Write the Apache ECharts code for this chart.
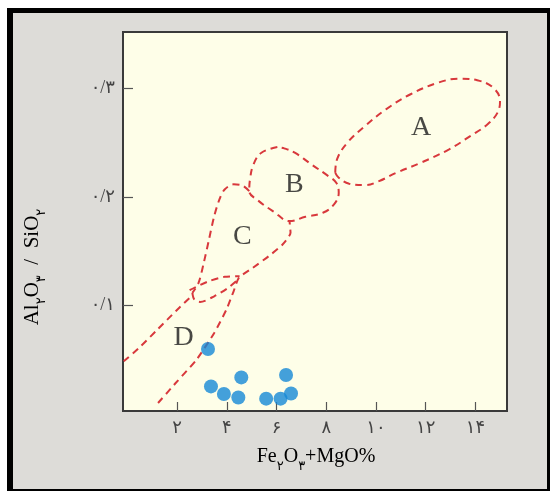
<!DOCTYPE html>
<html>
<head>
<meta charset="utf-8">
<script src="https://cdn.jsdelivr.net/npm/echarts@6/dist/echarts.min.js"></script>
<style>
html,body{margin:0;padding:0;background:#ffffff;}
#c{width:550px;height:491px;}
</style>
</head>
<body>
<div id="c"></div>
<script>
// ---- data ----
var xTicks = [2, 4, 6, 8, 10, 12, 14];
var yTicks = [0.1, 0.2, 0.3];
var pointsX = [3.24, 3.36, 3.88, 4.58, 4.46, 5.58, 6.16, 6.38, 6.58];
var pointsY = [0.0597, 0.0252, 0.0182, 0.0335, 0.0150, 0.0139, 0.0139, 0.0357, 0.0187];

var regionA = [[8.36,0.2223],[8.43,0.2345],[8.85,0.2500],[9.56,0.2653],[10.40,0.2807],[11.39,0.2946],[12.52,0.3054],[13.37,0.3090],[14.07,0.3075],[14.71,0.3007],[14.99,0.2884],[14.89,0.2777],[14.49,0.2669],[13.79,0.2560],[12.94,0.2438],[11.81,0.2315],[10.83,0.2223],[10.12,0.2145],[9.56,0.2108],[8.92,0.2121],[8.50,0.2176],[8.36,0.2223]];
var regionB = [[6.03,0.2459],[5.39,0.2407],[5.07,0.2299],[4.93,0.2161],[4.90,0.2053],[5.25,0.1967],[5.89,0.1862],[6.52,0.1776],[7.16,0.1816],[7.86,0.1853],[8.31,0.1930],[8.50,0.2038],[8.40,0.2130],[8.08,0.2191],[7.44,0.2293],[6.73,0.2407],[6.31,0.2447],[6.03,0.2459]];
var regionCLeft = [[4.90,0.2053],[4.62,0.2105],[4.27,0.2115],[3.91,0.2068],[3.70,0.1976],[3.49,0.1822],[3.28,0.1607],[3.07,0.1392],[2.86,0.1207],[2.61,0.1114]];
var lensBottom = [[2.61,0.1114],[2.69,0.1053],[2.92,0.1031],[3.49,0.1083],[4.05,0.1161],[4.48,0.1244]];
var lensTop = [[2.50,0.1139],[3.21,0.1216],[3.91,0.1262],[4.51,0.1268]];
var dUpper = [[-0.15,0.0483],[0.53,0.0621],[1.23,0.0782],[1.94,0.0945],[2.57,0.1083]];
var dcLower = [[1.23,0.0099],[1.94,0.0283],[2.78,0.0499],[3.49,0.0745],[3.98,0.0960],[4.27,0.1129],[4.48,0.1253],[5.04,0.1345],[5.68,0.1452],[6.24,0.1560],[6.56,0.1669],[6.52,0.1776]];
var regionLabels = [['A',11.81,0.2638],['B',6.71,0.2115],['C',4.62,0.1637],['D',2.26,0.0699]];

// ---- helpers ----
var fa = ['۰','۱','۲','۳','۴','۵','۶','۷','۸','۹'];
function toFa(s){ return String(s).replace(/[0-9]/g, function(d){ return fa[+d]; }); }
var serif = 'Liberation Serif, DejaVu Serif, DejaVu Sans, serif';

var red = '#d8383c';
function dashed(data, smooth){
  return {
    type:'line', data:data, smooth: smooth, symbol:'none', silent:true,
    lineStyle:{color:red, width:2, type:[7,5]}, z:3
  };
}

var series = [
  dashed(regionA, 0.4),
  dashed(regionB, 0.4),
  dashed(regionCLeft, 0.3),
  dashed(lensBottom, 0.3),
  dashed(lensTop, 0.3),
  dashed(dUpper, 0.2),
  dashed(dcLower, 0.2),
  {
    type:'scatter', symbol:'circle', symbolSize:14,
    data: pointsX.map(function(x,i){ return [x, pointsY[i]]; }),
    itemStyle:{color:'#1588d6'}, z:5
  },
  {
    type:'scatter', symbolSize:0, silent:true,
    data: regionLabels.map(function(r){ return {value:[r[1], r[2]], name:r[0]}; }),
    label:{show:true, position:'inside', formatter:function(p){return p.name;},
      fontFamily:serif, fontSize:28, color:'#1a1a1a'}, z:6
  }
];

var chart = echarts.init(document.getElementById('c'), null, {renderer:'canvas'});
chart.setOption({
  animation:false,
  backgroundColor:'#ffffff',
  graphic:[
    {type:'rect', shape:{x:7, y:8, width:543, height:483}, style:{fill:'#000000'}, z:-10},
    {type:'rect', shape:{x:13, y:13, width:534, height:476}, style:{fill:'#dddcd8'}, z:-9},
    {type:'text', x:316, y:457, z:10,
      style:{text:'{n|Fe}{s|۲}{n|O}{s|۳}{n|+MgO%}', align:'center', verticalAlign:'middle',
        rich:{ n:{fontFamily:serif, fontSize:20, color:'#333', lineHeight:32},
               s:{fontFamily:serif, fontSize:13, color:'#333', verticalAlign:'bottom', lineHeight:13} } } },
    {type:'text', x:32, y:267, rotation:Math.PI/2, z:10,
      style:{text:'{n|Al}{s|۲}{n|O}{s|۳}{n|  /  SiO}{s|۲}', align:'center', verticalAlign:'middle',
        rich:{ n:{fontFamily:serif, fontSize:21, color:'#333', lineHeight:32},
               s:{fontFamily:serif, fontSize:13, color:'#333', verticalAlign:'bottom', lineHeight:13} } } }
  ],
  grid:{left:123, top:32, right:43, bottom:80, show:true, backgroundColor:'#fefee8',
    borderColor:'#3a3a3a', borderWidth:2},
  xAxis:{
    type:'value', min:-0.18, max:15.27,
    splitLine:{show:false},
    axisLine:{show:true, onZero:false, lineStyle:{color:'#3a3a3a', width:2}},
    axisTick:{show:true, inside:true, length:9, customValues:xTicks, lineStyle:{color:'#555', width:1.2}},
    axisLabel:{show:true, customValues:xTicks, margin:8, formatter:function(v){return toFa(v);},
      fontFamily:serif, fontSize:18, color:'#444'}
  },
  yAxis:{
    type:'value', min:0.0025, max:0.352,
    splitLine:{show:false},
    axisLine:{show:true, onZero:false, lineStyle:{color:'#3a3a3a', width:2}},
    axisTick:{show:true, inside:true, length:10, customValues:yTicks, lineStyle:{color:'#555', width:1.2}},
    axisLabel:{show:true, customValues:yTicks, margin:8, formatter:function(v){return toFa('0/' + Math.round(v*10));},
      fontFamily:serif, fontSize:18, color:'#444'}
  },
  series:series
});
</script>
</body>
</html>
